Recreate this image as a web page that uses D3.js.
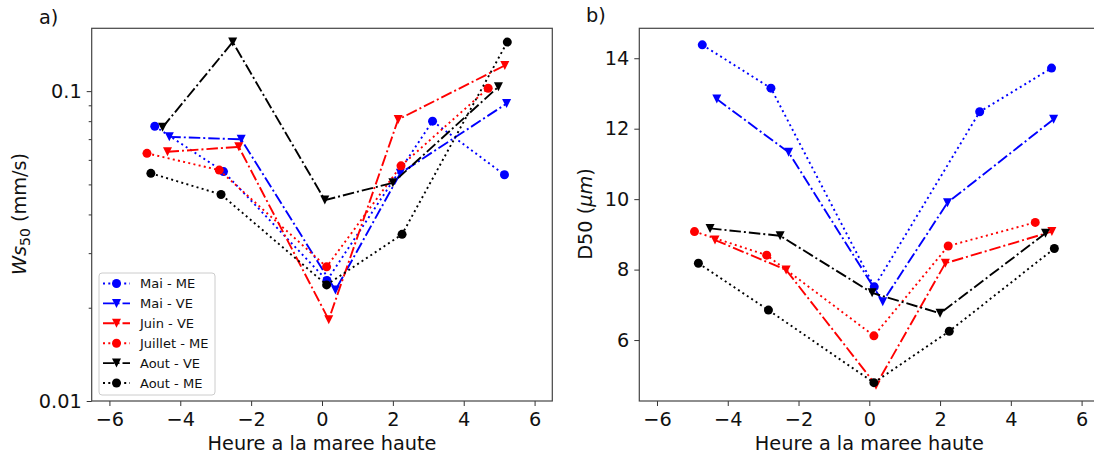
<!DOCTYPE html>
<html>
<head>
<meta charset="utf-8">
<script src="https://cdn.jsdelivr.net/npm/d3@7"></script>
<style>
  body { margin: 0; background: #fff; }
  svg { font-family: "DejaVu Sans", sans-serif; }
</style>
</head>
<body>
<div id="viz"></div>
<script>
// series, in plot order
let seriesNames = ["Mai - ME", "Mai - VE", "Juin - VE", "Juillet - ME", "Aout - VE", "Aout - ME"];

// hours relative to high tide
let maiMeHours = [-4.72, -2.78, 0.14, 3.12, 5.15];
let maiVeHours = [-4.31, -2.28, 0.38, 2.21, 5.21];
let juinVeHours = [-4.36, -2.35, 0.19, 2.15, 5.16];
let juilletMeHours = [-4.94, -2.9, 0.13, 2.23, 4.69];
let aoutVeHours = [-4.5, -2.52, 0.08, 2.0, 4.98];
let aoutMeHours = [-4.83, -2.85, 0.13, 2.26, 5.23];

// panel a) Ws50 (mm/s)
let maiMeWs = [0.077, 0.055, 0.0245, 0.080, 0.0537];
let maiVeWs = [0.0712, 0.0699, 0.0228, 0.0543, 0.0912];
let juinVeWs = [0.0637, 0.0661, 0.0183, 0.0810, 0.121];
let juilletMeWs = [0.063, 0.0556, 0.0271, 0.0574, 0.1022];
let aoutVeWs = [0.0764, 0.144, 0.0445, 0.0506, 0.1033];
let aoutMeWs = [0.0543, 0.0464, 0.0237, 0.0345, 0.144];

// panel b) D50 (um)
let maiMeD50 = [14.38, 13.15, 7.51, 12.48, 13.72];
let maiVeD50 = [12.84, 11.33, 7.09, 9.90, 12.27];
let juinVeD50 = [8.84, 7.99, 4.72, 8.18, 9.08];
let juilletMeD50 = [9.08, 8.41, 6.12, 8.67, 9.34];
let aoutVeD50 = [9.17, 8.96, 7.34, 6.76, 9.03];
let aoutMeD50 = [8.18, 6.85, 4.79, 6.25, 8.60];

let xTicks = [-6, -4, -2, 0, 2, 4, 6];
let wsTicks = [0.01, 0.1];
let wsMinorTicks = [0.02, 0.03, 0.04, 0.05, 0.06, 0.07, 0.08, 0.09];
let d50Ticks = [6, 8, 10, 12, 14];

let w = 1094;
let h = 454;
let fs = 19.3;

let colors = ["blue", "blue", "red", "red", "black", "black"];
let markers = ["circle", "tri", "tri", "circle", "tri", "circle"];
let styles = ["dot", "dashdot", "dashdot", "dot", "dashdot", "dot"];
let hoursList = [maiMeHours, maiVeHours, juinVeHours, juilletMeHours, aoutVeHours, aoutMeHours];
let wsList = [maiMeWs, maiVeWs, juinVeWs, juilletMeWs, aoutVeWs, aoutMeWs];
let d50List = [maiMeD50, maiVeD50, juinVeD50, juilletMeD50, aoutVeD50, aoutMeD50];

let lw = 1.9;
let dashes = { dot: "2,3.3", dashdot: "11.5,3,2,3" };

let viz = d3.select("#viz")
    .append("svg")
    .attr("width", w)
    .attr("height", h)
    .attr("viewBox", "0 0 " + w + " " + h);

function drawMarker(g, type, x, y, color) {
    if (type == "circle") {
        g.append("circle").attr("cx", x).attr("cy", y).attr("r", 4.5).attr("fill", color);
    } else {
        let s = 4.5;
        g.append("path")
            .attr("d", "M" + (x - s) + "," + (y - s) + "L" + (x + s) + "," + (y - s) + "L" + x + "," + (y + s) + "Z")
            .attr("fill", color);
    }
}

function styleAxis(axisGroup) {
    axisGroup.select(".domain").remove();
    axisGroup.selectAll("text").attr("font-size", fs).attr("fill", "#111").attr("font-family", "DejaVu Sans");
    axisGroup.selectAll("line").attr("stroke", "#333");
}

function drawPanel(left, right, yScale, valuesList) {
    let top = 28.3, bottom = 401;
    let xScale = d3.scaleLinear().domain([-6.5, 6.5]).range([left, right]);

    let g = viz.append("g");

    // lines + markers
    seriesNames.forEach(function (name, i) {
        let pts = hoursList[i].map(function (hr, j) {
            return [xScale(hr), yScale(valuesList[i][j])];
        });
        g.append("path")
            .attr("d", d3.line()(pts))
            .attr("fill", "none")
            .attr("stroke", colors[i])
            .attr("stroke-width", lw)
            .attr("stroke-dasharray", dashes[styles[i]]);
        pts.forEach(function (p) {
            drawMarker(g, markers[i], p[0], p[1], colors[i]);
        });
    });

    // x axis
    let xAxisGroup = viz.append("g")
        .attr("transform", "translate(0," + bottom + ")")
        .call(d3.axisBottom(xScale).tickValues(xTicks).tickSize(5).tickPadding(6).tickFormat(d3.format("d")));
    styleAxis(xAxisGroup);

    viz.append("text")
        .attr("x", (left + right) / 2)
        .attr("y", 450)
        .attr("text-anchor", "middle")
        .attr("font-size", fs)
        .attr("fill", "#111")
        .text("Heure a la maree haute");

    // frame
    viz.append("rect")
        .attr("x", left)
        .attr("y", top)
        .attr("width", right - left)
        .attr("height", bottom - top)
        .attr("fill", "none")
        .attr("stroke", "#444")
        .attr("stroke-width", 1.2);

    return xScale;
}

// ---- panel a)
let wsScale = d3.scaleLog().domain([0.01, 0.1595]).range([401, 28.3]);
drawPanel(91.7, 552.3, wsScale, wsList);

let yAxisA = viz.append("g")
    .attr("transform", "translate(91.7,0)")
    .call(d3.axisLeft(wsScale).tickValues(wsTicks).tickSize(5).tickPadding(5).tickFormat(function (d) {
        return d == 0.1 ? "0.1" : "0.01";
    }));
styleAxis(yAxisA);

let yMinorA = viz.append("g")
    .attr("transform", "translate(91.7,0)")
    .call(d3.axisLeft(wsScale).tickValues(wsMinorTicks).tickSize(3).tickFormat(""));
yMinorA.select(".domain").remove();
yMinorA.selectAll("line").attr("stroke", "#333");

let yLabelA = viz.append("text")
    .attr("transform", "translate(26,214) rotate(-90)")
    .attr("text-anchor", "middle")
    .attr("font-size", fs)
    .attr("fill", "#111");
yLabelA.append("tspan").attr("font-style", "italic").text("Ws");
yLabelA.append("tspan").attr("font-size", 14).attr("dy", 4).text("50");
yLabelA.append("tspan").attr("dy", -4).text(" (mm/s)");

viz.append("text")
    .attr("x", 39)
    .attr("y", 24)
    .attr("font-size", fs)
    .attr("fill", "#111")
    .text("a)");

// legend
let legend = viz.append("g");
legend.append("rect")
    .attr("x", 99)
    .attr("y", 273)
    .attr("width", 116)
    .attr("height", 122)
    .attr("rx", 3)
    .attr("fill", "white")
    .attr("fill-opacity", 0.8)
    .attr("stroke", "#ccc");

seriesNames.forEach(function (name, i) {
    let ly = 283.5 + i * 19.9;
    legend.append("line")
        .attr("x1", 103).attr("x2", 130)
        .attr("y1", ly).attr("y2", ly)
        .attr("stroke", colors[i])
        .attr("stroke-width", lw)
        .attr("stroke-dasharray", dashes[styles[i]]);
    drawMarker(legend, markers[i], 116.5, ly, colors[i]);
    legend.append("text")
        .attr("x", 140)
        .attr("y", ly + 4.6)
        .attr("font-size", 13)
        .attr("fill", "#111")
        .text(name);
});

// ---- panel b)
let d50Scale = d3.scaleLinear().domain([4.27, 14.85]).range([401, 28.3]);
drawPanel(639.3, 1099.3, d50Scale, d50List);

let yAxisB = viz.append("g")
    .attr("transform", "translate(639.3,0)")
    .call(d3.axisLeft(d50Scale).tickValues(d50Ticks).tickSize(5).tickPadding(5));
styleAxis(yAxisB);

let yLabelB = viz.append("text")
    .attr("transform", "translate(592,214) rotate(-90)")
    .attr("text-anchor", "middle")
    .attr("font-size", fs)
    .attr("fill", "#111");
yLabelB.append("tspan").text("D50 (");
yLabelB.append("tspan").attr("font-style", "italic").text("μm");
yLabelB.append("tspan").text(")");

viz.append("text")
    .attr("x", 586)
    .attr("y", 22)
    .attr("font-size", fs)
    .attr("fill", "#111")
    .text("b)");
</script>
</body>
</html>
